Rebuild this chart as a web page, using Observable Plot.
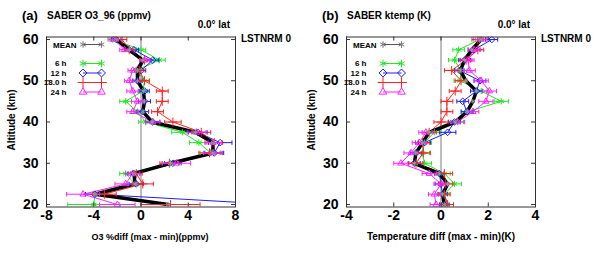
<!DOCTYPE html>
<html><head><meta charset="utf-8">
<script src="https://cdn.jsdelivr.net/npm/d3@7"></script>
<script src="https://cdn.jsdelivr.net/npm/@observablehq/plot@0.6"></script>
<style>
body{margin:0;background:#fff;}
#wrap{position:relative;width:600px;height:253px;font-family:"Liberation Sans",Arial,sans-serif;}
.panel{position:absolute;top:0;width:300px;height:253px;}
.panel svg{position:absolute;left:0;top:0;}
.overlay{pointer-events:none;}
</style></head><body><div id="wrap"></div>
<script>
// ---- data ----
const altitudes = [20,22.5,25,27.5,30,32.5,35,37.5,40,42.5,45,47.5,50,52.5,55,57.5,60];
const seriesNames = ["6 h","12 h","18.0 h","24 h"];
const yTicks = [20,30,40,50,60];
const xTicksA = [-8,-4,0,4,8];
const xTicksB = [-4,-2,0,2,4];

// Panel (a): SABER O3_96
const o3Mean = [2.3,-3.9,-0.5,-0.6,2.5,6.1,6.1,4.6,0.95,0.15,0.3,0.2,-0.3,-0.3,0.15,-1.0,-2.1];
const o3H6   = [-4.0,-3.9,-0.5,-1.3,2.5,5.9,4.9,3.5,0.4,-0.3,-1.3,0.15,0.3,-0.4,1.55,0.0,-2.4];
const o3H12  = [11.5,-3.9,-0.4,-0.6,2.7,6.2,6.7,4.8,1.0,0.15,0.3,0.3,-0.3,0.0,1.0,-0.6,-2.1];
const o3H18  = [2.5,-3.1,0.15,-0.4,2.4,5.8,6.2,5.1,2.7,1.4,1.8,1.8,0.3,-0.15,0.3,-1.0,-1.6];
const o3H24  = [-2.0,-4.9,-1.3,-0.7,3.0,6.1,6.1,4.7,1.0,-0.7,-0.3,-0.7,-1.0,-0.7,0.3,-1.4,-2.3];
const o3H6Err  = [2.2,0.8,0.6,0.5,0.7,0.9,0.8,0.9,0.6,0.5,0.5,0.4,0.4,0.4,0.5,0.4,0.4];
const o3H12Err = [1.0,0.8,0.6,0.5,0.7,0.8,1.0,0.8,0.6,0.5,0.5,0.4,0.4,0.4,0.5,0.4,0.4];
const o3H18Err = [2.5,1.0,0.9,0.5,0.8,0.9,0.7,0.8,0.7,0.5,0.5,0.5,0.4,0.4,0.4,0.4,0.4];
const o3H24Err = [1.5,1.4,0.9,0.6,1.2,0.8,0.7,0.8,0.6,0.5,0.5,0.5,0.4,0.4,0.4,0.4,0.4];

// Panel (b): SABER ktemp
const kMean = [0.14,0.07,0.28,-0.07,-1.13,-1.06,-0.78,-0.5,0.6,1.1,1.35,1.5,1.05,0.82,1.0,1.3,1.7];
const kH6   = [0.28,0.14,0.57,0.14,-0.7,-0.78,-0.7,-0.28,0.7,1.13,2.55,1.7,0.8,0.85,0.57,0.75,1.63];
const kH12  = [0.14,0.07,0.0,-0.07,-1.13,-1.06,-0.7,0.28,0.57,1.1,0.92,1.5,1.65,0.78,1.0,1.4,2.15];
const kH18  = [0.28,0.14,0.2,0.14,-1.06,-0.75,-0.78,-0.5,0.0,0.25,0.25,0.6,0.85,0.45,1.06,1.56,1.56];
const kH24  = [-0.21,-0.28,0.0,-0.5,-1.7,-1.27,-0.92,-0.64,0.7,1.35,1.9,2.05,1.7,1.2,1.15,1.4,1.7];
const kH6Err  = [0.25,0.2,0.3,0.25,0.3,0.3,0.3,0.25,0.25,0.25,0.3,0.25,0.25,0.25,0.25,0.25,0.25];
const kH12Err = [0.2,0.2,0.25,0.2,0.25,0.25,0.25,0.35,0.25,0.25,0.25,0.25,0.25,0.2,0.25,0.25,0.25];
const kH18Err = [0.25,0.25,0.3,0.35,0.3,0.3,0.3,0.3,0.3,0.25,0.25,0.25,0.25,0.3,0.25,0.25,0.25];
const kH24Err = [0.25,0.25,0.3,0.3,0.3,0.3,0.3,0.3,0.3,0.25,0.3,0.3,0.3,0.25,0.25,0.25,0.25];

// ---- styles ----
const seriesColors = ["#22e622","#1c1cff","#ff2020","#ff22ff"];
const seriesSymbols = ["asterisk","diamond2","plus","triangle2"];
const FONT = '"Liberation Sans", Arial, sans-serif';
const W = 300, H = 253, mL = 46, mR = 65, mT = 36.5, mB = 46.5;
const iW = W - mL - mR, iH = H - mT - mB;

const capSymbol = {draw(ctx, size){ const r = Math.sqrt(size/Math.PI); ctx.moveTo(0,-r); ctx.lineTo(0,r); }};

function makePlot(mean, vals, errs, xDomain, xTicks){
  const marks = [Plot.ruleX([0], {stroke:"#a8a8a8", strokeWidth:1.5})];
  const rowsList = vals.map((v,k) => altitudes.map((a,i) => ({alt:a, v:v[i], e:errs[k][i]})));
  rowsList.forEach((rows,k) => {
    marks.push(Plot.line(rows, {x:"v", y:"alt", stroke:seriesColors[k], strokeWidth:1, clip:true}));
  });
  const meanRows = altitudes.map((a,i) => ({alt:a, v:mean[i]}));
  marks.push(Plot.line(meanRows, {x:"v", y:"alt", stroke:"#000", strokeWidth:3.5, clip:true}));
  rowsList.forEach((rows,k) => {
    const c = seriesColors[k];
    marks.push(Plot.link(rows, {x1:d=>d.v-d.e, x2:d=>d.v+d.e, y1:"alt", y2:"alt", stroke:c, strokeWidth:1, clip:true}));
    marks.push(Plot.dot(rows, {x:d=>d.v-d.e, y:"alt", symbol:capSymbol, r:2.2, stroke:c, strokeWidth:1, clip:true}));
    marks.push(Plot.dot(rows, {x:d=>d.v+d.e, y:"alt", symbol:capSymbol, r:2.2, stroke:c, strokeWidth:1, clip:true}));
    marks.push(Plot.dot(rows, {x:"v", y:"alt", symbol:seriesSymbols[k], r:3, stroke:c, strokeWidth:1, fill:"none", clip:true}));
  });
  marks.push(Plot.dot(meanRows, {x:"v", y:"alt", symbol:"asterisk", r:2.2, stroke:"#999", strokeWidth:1, clip:true}));
  // inward ticks on all four sides
  marks.push(Plot.tickX(xTicks, {x:d=>d, insetTop:iH-4, stroke:"#333"}));
  marks.push(Plot.tickX(xTicks, {x:d=>d, insetBottom:iH-4, stroke:"#333"}));
  marks.push(Plot.tickY(yTicks, {y:d=>d, insetLeft:iW-4, stroke:"#333"}));
  marks.push(Plot.tickY(yTicks, {y:d=>d, insetRight:iW-4, stroke:"#333"}));
  marks.push(Plot.frame({stroke:"#333", strokeWidth:1}));
  marks.push(Plot.axisX(xTicks, {anchor:"bottom", tickSize:0, tickPadding:3.5, tickFormat:d=>String(d), fontSize:14, fontWeight:"bold", label:null}));
  marks.push(Plot.axisY(yTicks, {anchor:"left", tickSize:0, tickPadding:8, tickFormat:d=>String(d), fontSize:14, fontWeight:"bold", label:null}));
  return Plot.plot({
    width:W, height:H, marginLeft:mL, marginRight:mR, marginTop:mT, marginBottom:mB,
    x:{domain:xDomain}, y:{domain:[19.4,60.6]},
    style:{fontFamily:FONT, background:"transparent", color:"#000"},
    marks
  });
}

function makeOverlay(letter, title, xTitle, xTitleCenter, xTitleSize){
  const svg = d3.create("svg").attr("class","overlay").attr("width",W).attr("height",H)
    .attr("font-family",FONT).attr("font-weight","bold").attr("fill","#000");
  svg.append("text").attr("x",22).attr("y",20).attr("font-size",13).text(letter);
  svg.append("text").attr("x",47).attr("y",18.5).attr("font-size",10).text(title);
  svg.append("text").attr("x",230).attr("y",28).attr("font-size",10).attr("text-anchor","end").text("0.0° lat");
  svg.append("text").attr("x",241).attr("y",41.5).attr("font-size",10).text("LSTNRM 0");
  svg.append("text").attr("x",xTitleCenter).attr("y",240).attr("font-size",xTitleSize).attr("text-anchor","middle").text(xTitle);
  svg.append("text").attr("transform","translate(15,120) rotate(-90)").attr("font-size",10).attr("text-anchor","middle").text("Altitude (km)");
  // legend
  const lg = svg.append("g").attr("font-size",8);
  lg.append("text").attr("x",53).attr("y",47.5).text("MEAN");
  lg.append("line").attr("x1",83).attr("x2",101.5).attr("y1",44.5).attr("y2",44.5).attr("stroke","#555");
  [83,101.5].forEach(x => lg.append("path").attr("transform",`translate(${x},44.5)`)
    .attr("d", d3.symbol(d3.symbolAsterisk, 30)()).attr("stroke","#777").attr("fill","none"));
  const ys = [63.5,73,82.5,92];
  const d3sym = [d3.symbolAsterisk, d3.symbolDiamond2, d3.symbolPlus, d3.symbolTriangle2];
  seriesNames.forEach((n,k) => {
    lg.append("text").attr("x",66.5).attr("y",ys[k]+2.8).attr("text-anchor","end").text(n);
    lg.append("line").attr("x1",83).attr("x2",101.5).attr("y1",ys[k]).attr("y2",ys[k]).attr("stroke",seriesColors[k]);
    [83,101.5].forEach(x => lg.append("path").attr("transform",`translate(${x},${ys[k]})`)
      .attr("d", d3.symbol(d3sym[k], 40)()).attr("stroke",seriesColors[k]).attr("fill","none"));
  });
  return svg.node();
}

const wrap = document.getElementById("wrap");
function addPanel(left, plot, overlay){
  const p = document.createElement("div");
  p.className = "panel"; p.style.left = left + "px";
  p.appendChild(plot); p.appendChild(overlay);
  wrap.appendChild(p);
}
addPanel(0,
  makePlot(o3Mean, [o3H6,o3H12,o3H18,o3H24], [o3H6Err,o3H12Err,o3H18Err,o3H24Err], [-8,8], xTicksA),
  makeOverlay("(a)", "SABER O3_96 (ppmv)", "O3 %diff (max - min)(ppmv)", 150, 9));
addPanel(300,
  makePlot(kMean, [kH6,kH12,kH18,kH24], [kH6Err,kH12Err,kH18Err,kH24Err], [-4,4], xTicksB),
  makeOverlay("(b)", "SABER ktemp (K)", "Temperature diff (max - min)(K)", 141, 10));
</script></body></html>
